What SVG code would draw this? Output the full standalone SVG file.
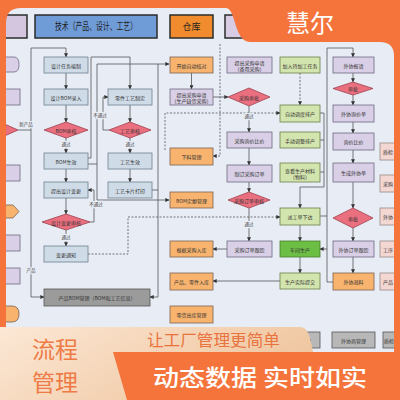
<svg xmlns="http://www.w3.org/2000/svg" width="400" height="400" viewBox="0 0 400 400">
<defs>
<style>
text{font-family:"Noto Sans CJK SC","Noto Sans",sans-serif}
.t{font-size:5px;fill:#333;text-anchor:middle;dominant-baseline:central}
.ts{font-size:5px;fill:#333;text-anchor:start;dominant-baseline:central}
.bl rect{fill:#CFDCE8;stroke:#6F7F8F;stroke-width:.8}
.or rect,.or path{fill:#F8B46E;stroke:#7A6250;stroke-width:.8}
.pu rect,.pu path{fill:#D9CFE6;stroke:#6F6A80;stroke-width:.8}
.gr rect{fill:#D3E5AE;stroke:#6B7F4A;stroke-width:.8}
.gg rect{fill:#6DBE45;stroke:#4A7F2A;stroke-width:.8}
.dm polygon{fill:#EA6F7F;stroke:#A0404E;stroke-width:.8}
.pk rect{fill:#F3D7D3;stroke:#9A8A88;stroke-width:.8}
.gy rect{fill:#B8B8B8;stroke:#555;stroke-width:.8}
.dk rect{fill:#9B9B9B;stroke:#555;stroke-width:.8}
.hd rect{stroke:#2B2B2B;stroke-width:1.5}
.c path{fill:none;stroke:#555;stroke-width:.8}
.c path.d{stroke-dasharray:2 1.5}
.lb{font-size:4.5px;fill:#444;text-anchor:middle;paint-order:stroke;stroke:#E7ECF5;stroke-width:2}
.big{font-size:23px;fill:#EE7A45;text-anchor:middle}
</style>
<marker id="a" viewBox="0 0 6 6" refX="5.5" refY="3" markerUnits="userSpaceOnUse" markerWidth="4" markerHeight="4" orient="auto"><path d="M0,0 L6,3 L0,6 Z" fill="#333"/></marker>
<linearGradient id="pg" x1="0" y1="0" x2="1" y2="0.4"><stop offset="0" stop-color="#FCE8D6"/><stop offset="1" stop-color="#EFC59E"/></linearGradient>
</defs>
<rect x="0" y="0" width="400" height="400" fill="#E7ECF5"/>

<g id="headers">
<g id="h-left" class="hd"><rect x="-5" y="15" width="32" height="23" fill="#D5C6E0"/></g>
<g id="h-tech" class="hd"><rect x="35" y="15" width="122" height="23" fill="#6F9BD7"/><text x="96" y="30" font-size="10" fill="#1E1E1E" text-anchor="middle" textLength="82" lengthAdjust="spacingAndGlyphs">技术（产品、设计、工艺）</text></g>
<g id="h-store" class="hd"><rect x="170" y="15" width="43" height="23" fill="#F08C2E"/><text x="191.5" y="30" font-size="9" fill="#1E1E1E" text-anchor="middle">仓库</text></g>
<g id="h-next" class="hd"><rect x="225" y="15" width="40" height="23" fill="#D8CCE4"/></g>
</g>

<g id="connectors" class="c">
<path d="M18,130 H31 M31,130 V48 H66 V57" marker-end="url(#a)"/>
<path d="M31,130 V297 H44" marker-end="url(#a)"/>
<path d="M66,73 V89" marker-end="url(#a)"/>
<path d="M66,105 V122" marker-end="url(#a)"/>
<path d="M66,138 V153" marker-end="url(#a)"/>
<path d="M66,169 V182" marker-end="url(#a)"/>
<path d="M66,198 V214" marker-end="url(#a)"/>
<path d="M66,230 V246" marker-end="url(#a)"/>
<path d="M90,222 H94 V190 H88" marker-end="url(#a)"/>
<path d="M88,158 H91 V57 H130 V89" marker-end="url(#a)"/>
<path d="M88,164 H97 V64 H169" marker-end="url(#a)"/>
<path d="M97,164 V200 H169" marker-end="url(#a)"/>
<path d="M130,105 V122" marker-end="url(#a)"/>
<path d="M109,130 H103 V97 H108" marker-end="url(#a)"/>
<path d="M130,138 V153" marker-end="url(#a)"/>
<path d="M130,169 V182" marker-end="url(#a)"/>
<path d="M152,190 H158 M158,64 V297 H150" marker-end="url(#a)"/>
<path d="M191.5,73 V89" marker-end="url(#a)"/>
<path d="M213,97 H228" marker-end="url(#a)"/>
<path class="d" d="M165,150 V113 H280" marker-end="url(#a)"/>
<path class="d" d="M220,44 V156 H213" marker-end="url(#a)"/>
<path d="M249,106 V132" marker-end="url(#a)"/>
<path d="M249,148 V165" marker-end="url(#a)"/>
<path d="M249,182 V192" marker-end="url(#a)"/>
<path d="M249,208 V241" marker-end="url(#a)"/>
<path d="M227,249 H213" marker-end="url(#a)"/>
<path class="d" d="M88,254 H128 V217 H280" marker-end="url(#a)"/>
<path class="d" d="M300,73 V105" marker-end="url(#a)"/>
<path d="M320,113 H324 V187 H300 V208" marker-end="url(#a)"/>
<path d="M320,140 H324 M320,172 H324 M320,216 H327"/>
<path d="M327,48 H353 V57" marker-end="url(#a)"/>
<path d="M327,48 V282 H333"/>
<path d="M327,249 H320" marker-end="url(#a)"/>
<path d="M300,225 V241" marker-end="url(#a)"/>
<path d="M300,257 V273" marker-end="url(#a)"/>
<path d="M280,281 H213" marker-end="url(#a)"/>
<path d="M353,73 V82" marker-end="url(#a)"/>
<path d="M353,95 V105" marker-end="url(#a)"/>
<path d="M353,122 V133" marker-end="url(#a)"/>
<path d="M353,150 V163" marker-end="url(#a)"/>
<path d="M353,182 V208" marker-end="url(#a)"/>
<path d="M353,228 V241" marker-end="url(#a)"/>
<path d="M353,257 V273" marker-end="url(#a)"/>
<text class="lb" x="26" y="126">新产品</text>
<text class="lb" x="31" y="272">产品</text>
<text class="lb" x="66" y="146">通过</text>
<text class="lb" x="66" y="239">通过</text>
<text class="lb" x="96" y="206">不通过</text>
<text class="lb" x="100" y="117">不通过</text>
<text class="lb" x="130" y="146">通过</text>
<text class="lb" x="249" y="118">通过</text>
<text class="lb" x="249" y="226">通过</text>
</g>

<g id="left-partial">
<g id="lp1" class="pu"><path d="M-10,57 H14 Q19,57 19,64.5 Q19,72 14,72 H-10 Z"/></g>
<g id="lp2" class="pu"><rect x="-10" y="89" width="30" height="16"/></g>
<g id="lp3" class="dm"><polygon points="-20,130 0,122 18,130 0,138"/></g>
<g id="lp4" class="pu"><rect x="-10" y="165" width="30" height="16"/></g>
<g id="lp5" class="or"><path d="M-5,205 H13 L19,211.5 L13,218 H-5 Z"/></g>
<g id="lp6" class="pu"><rect x="-10" y="235" width="30" height="16"/></g>
<g id="lp7" class="pu"><rect x="-10" y="268" width="30" height="16"/></g>
<g id="lp8" class="or"><path d="M-10,306 H12 Q19,306 19,314 Q19,322 12,322 H-10 Z"/></g>
</g>

<g id="n-sjrw" class="bl"><rect x="44" y="57" width="44" height="16"/><text class="t" x="66" y="65">设计任务编制</text></g>
<g id="n-bomlr" class="bl"><rect x="44" y="89" width="44" height="16"/><text class="t" x="66" y="97">设计BOM录入</text></g>
<g id="n-bomsh" class="dm"><polygon points="44,130 66,122 88,130 66,138"/><text class="t" x="66" y="130">BOM审核</text></g>
<g id="n-bomsx" class="bl"><rect x="44" y="153" width="44" height="16"/><text class="t" x="66" y="161">BOM生效</text></g>
<g id="n-sjbg" class="bl"><rect x="44" y="182" width="44" height="16"/><text class="t" x="66" y="190">提出设计变更</text></g>
<g id="n-bgsh" class="dm"><polygon points="42,222 66,214 90,222 66,230"/><text class="t" x="66" y="222">设计变更审核</text></g>
<g id="n-bgtz" class="bl"><rect x="44" y="246" width="44" height="16"/><text class="t" x="66" y="254">变更通知</text></g>
<g id="n-cpbom" class="dk"><rect x="44" y="289" width="106" height="17"/><text class="t" x="97" y="297.5">产品BOM管理（BOM和工艺信息）</text></g>

<g id="n-gyzd" class="bl"><rect x="108" y="89" width="44" height="16"/><text class="t" x="130" y="97">零件工艺制定</text></g>
<g id="n-gysh" class="dm"><polygon points="109,130 130,122 151,130 130,138"/><text class="t" x="130" y="130">工艺审核</text></g>
<g id="n-gysx" class="bl"><rect x="108" y="153" width="44" height="16"/><text class="t" x="130" y="161">工艺生效</text></g>
<g id="n-gykp" class="bl"><rect x="108" y="182" width="44" height="16"/><text class="t" x="130" y="190">工艺卡片打印</text></g>

<g id="n-ksdh" class="or"><rect x="170" y="57" width="43" height="16"/><text class="t" x="191.5" y="65">开始自动核对</text></g>
<g id="n-cgsq1" class="pu"><rect x="170" y="89" width="43" height="16"/><text class="t" x="191.5" y="97"><tspan x="191.5" dy="-3">提出采购申请</tspan><tspan x="191.5" dy="6">（生产缺货采购）</tspan></text></g>
<g id="n-xlgl" class="or"><rect x="170" y="148" width="43" height="17"/><text class="t" x="191.5" y="156.5">下料管理</text></g>
<g id="n-bomde" class="or"><rect x="170" y="192" width="43" height="16"/><text class="t" x="191.5" y="200">BOM定额管理</text></g>
<g id="n-cgrk" class="or"><rect x="170" y="241" width="43" height="16"/><text class="t" x="191.5" y="249">根据采购入库</text></g>
<g id="n-cprk" class="or"><rect x="170" y="273" width="43" height="17"/><text class="t" x="191.5" y="281.5">产品、零件入库</text></g>
<g id="n-lhck" class="or"><rect x="170" y="306" width="43" height="17"/><text class="t" x="191.5" y="314.5">零货出库管理</text></g>

<g id="n-cgsq2" class="pu"><rect x="227" y="57" width="45" height="16"/><text class="t" x="249.5" y="65"><tspan x="249.5" dy="-3">提出采购申请</tspan><tspan x="249.5" dy="6">（备用采购）</tspan></text></g>
<g id="n-cgsp" class="dm"><polygon points="228,97 249,88 270,97 249,106"/><text class="t" x="249" y="97">采购审批</text></g>
<g id="n-xjbj" class="pu"><rect x="227" y="132" width="45" height="16"/><text class="t" x="249.5" y="140">采购询价比价</text></g>
<g id="n-zdcg" class="pu"><rect x="227" y="165" width="45" height="17"/><text class="t" x="249.5" y="173.5">制订采购订单</text></g>
<g id="n-cgddsh" class="dm"><polygon points="228,200 249,192 270,200 249,208"/><text class="t" x="249" y="200">采购订单审核</text></g>
<g id="n-cggz" class="pu"><rect x="227" y="241" width="45" height="16"/><text class="t" x="249.5" y="249">采购订单跟踪</text></g>

<g id="n-djg" class="gr"><rect x="280" y="57" width="40" height="16"/><text class="t" x="300" y="65">加入待加工任务</text></g>
<g id="n-zdpc" class="gr"><rect x="280" y="105" width="40" height="17"/><text class="t" x="300" y="113.5">自动调度排产</text></g>
<g id="n-sdpc" class="gr"><rect x="280" y="132" width="40" height="16"/><text class="t" x="300" y="140">手动调整排产</text></g>
<g id="n-sccl" class="gr"><rect x="280" y="163" width="40" height="19"/><text class="t" x="300" y="172.5"><tspan x="300" dy="-3">查看生产材料</tspan><tspan x="300" dy="6">（物料）</tspan></text></g>
<g id="n-pgd" class="gr"><rect x="280" y="208" width="40" height="17"/><text class="t" x="300" y="216.5">派工单下达</text></g>
<g id="n-cjsc" class="gg"><rect x="280" y="241" width="40" height="16"/><text class="t" x="300" y="249">车间生产</text></g>
<g id="n-sjtj" class="gr"><rect x="280" y="273" width="40" height="16"/><text class="t" x="300" y="281">生产实际提交</text></g>

<g id="n-wxbq" class="pu"><rect x="333" y="57" width="41" height="16"/><text class="t" x="353.5" y="65">外协报请</text></g>
<g id="n-wxsp1" class="dm"><polygon points="333,88.5 353,82 373,88.5 353,95"/><text class="t" x="353" y="88.5">审批</text></g>
<g id="n-wxxj" class="pu"><rect x="333" y="105" width="41" height="17"/><text class="t" x="353.5" y="113.5">外协询价单</text></g>
<g id="n-wxbj" class="pu"><rect x="333" y="133" width="41" height="17"/><text class="t" x="353.5" y="141.5">询价比价</text></g>
<g id="n-wxd" class="pu"><rect x="333" y="163" width="41" height="19"/><text class="t" x="353.5" y="172.5">生成外协单</text></g>
<g id="n-wxsp2" class="dm"><polygon points="333,218 353,208 373,218 353,228"/><text class="t" x="353" y="218">审批</text></g>
<g id="n-wxgz" class="pu"><rect x="333" y="241" width="41" height="16"/><text class="t" x="353.5" y="249">外协订单跟踪</text></g>
<g id="n-wxtl" class="or"><rect x="333" y="273" width="41" height="17"/><text class="t" x="353.5" y="281.5">外协退料</text></g>

<g id="n-r1" class="pk"><rect x="380" y="143" width="30" height="17"/><text class="ts" x="383" y="151.5">质检</text></g>
<g id="n-r2" class="pk"><rect x="380" y="175" width="30" height="17"/><text class="ts" x="383" y="183.5">采购</text></g>
<g id="n-r3" class="pk"><rect x="380" y="208" width="30" height="17"/><text class="ts" x="383" y="216.5">外协</text></g>
<g id="n-r4" class="pk"><rect x="380" y="241" width="30" height="16"/><text class="ts" x="383" y="249">工序</text></g>
<g id="n-r5" class="pk"><rect x="380" y="273" width="30" height="17"/><text class="ts" x="383" y="281.5">产品</text></g>

<g id="n-b1" class="gy"><rect x="282" y="332" width="38" height="16"/><text class="t" x="301" y="340">生产管理</text></g>
<g id="n-b2" class="gy"><rect x="332" y="332" width="43" height="16"/><text class="t" x="353.5" y="340">外协商管理</text></g>
<g id="n-b3" class="gy"><rect x="383" y="332" width="30" height="16"/><text class="ts" x="384" y="340">质检</text></g>

<path id="frame" fill="#F4743B" fill-rule="evenodd" d="M0,0 H400 V400 H0 Z M6,23 Q6,8 21,8 L226,8 C236,8 234,42 250,42 L380,42 Q394,42 394,56 L394,352 L6,352 Z"/>
<text x="310" y="32" font-size="24" fill="#FFFFFF" text-anchor="middle">慧尔</text>

<path id="peach" fill="url(#pg)" d="M0,327 L300,327 C308,327 310,336 313,352 L113,352 L127,400 L0,400 Z"/>
<text class="big" x="55" y="357.5">流程</text>
<text class="big" x="55" y="391">管理</text>
<text x="213.5" y="346" font-size="16" fill="#E9733E" text-anchor="middle" textLength="133" lengthAdjust="spacingAndGlyphs">让工厂管理更简单</text>
<text x="260" y="386" font-size="23" font-weight="500" fill="#FFFFFF" text-anchor="middle" textLength="214" lengthAdjust="spacingAndGlyphs">动态数据 实时如实</text>
</svg>
